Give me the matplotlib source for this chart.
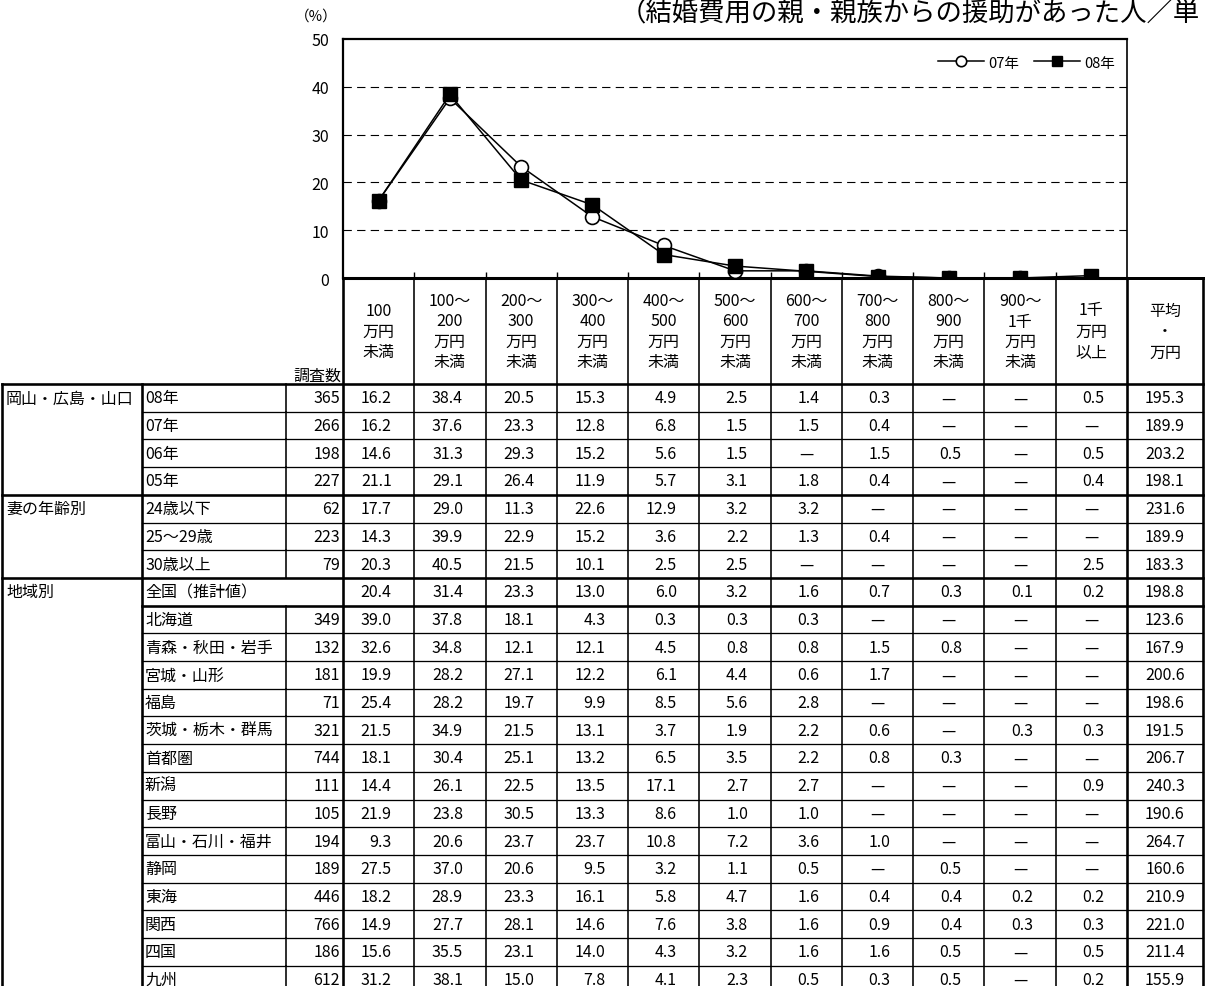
import matplotlib
matplotlib.use("Agg")
import matplotlib.pyplot as plt
import numpy as np

plt.rcParams["font.family"] = ["Noto Sans CJK JP", "DejaVu Sans"]
plt.rcParams["lines.scale_dashes"] = False

W, H = 1205, 987  # output size in px (dpi 100)

TITLE = "（結婚費用の親・親族からの援助があった人／単"
UNIT = "（%）"
SERIES = ["07年", "08年"]

BIN_HEADS = ["100\n万円\n未満", "100～\n200\n万円\n未満", "200～\n300\n万円\n未満",
             "300～\n400\n万円\n未満", "400～\n500\n万円\n未満", "500～\n600\n万円\n未満",
             "600～\n700\n万円\n未満", "700～\n800\n万円\n未満", "800～\n900\n万円\n未満",
             "900～\n1千\n万円\n未満", "1千\n万円\n以上"]
AVG_HEAD = "平均\n・\n万円"
N_HEAD = "調査数"

GROUPS = ["岡山・広島・山口", "妻の年齢別", "地域別"]
GROUP_SIZES = [4, 3, 15]

ROW_LABELS = ["08年", "07年", "06年", "05年",
              "24歳以下", "25～29歳", "30歳以上",
              "全国（推計値）", "北海道", "青森・秋田・岩手", "宮城・山形", "福島",
              "茨城・栃木・群馬", "首都圏", "新潟", "長野", "富山・石川・福井", "静岡",
              "東海", "関西", "四国", "九州"]

N_SURVEY = [365, 266, 198, 227, 62, 223, 79, None, 349, 132, 181, 71,
            321, 744, 111, 105, 194, 189, 446, 766, 186, 612]

# None = "—"
SHARES = [
    [16.2, 38.4, 20.5, 15.3, 4.9, 2.5, 1.4, 0.3, None, None, 0.5],
    [16.2, 37.6, 23.3, 12.8, 6.8, 1.5, 1.5, 0.4, None, None, None],
    [14.6, 31.3, 29.3, 15.2, 5.6, 1.5, None, 1.5, 0.5, None, 0.5],
    [21.1, 29.1, 26.4, 11.9, 5.7, 3.1, 1.8, 0.4, None, None, 0.4],
    [17.7, 29.0, 11.3, 22.6, 12.9, 3.2, 3.2, None, None, None, None],
    [14.3, 39.9, 22.9, 15.2, 3.6, 2.2, 1.3, 0.4, None, None, None],
    [20.3, 40.5, 21.5, 10.1, 2.5, 2.5, None, None, None, None, 2.5],
    [20.4, 31.4, 23.3, 13.0, 6.0, 3.2, 1.6, 0.7, 0.3, 0.1, 0.2],
    [39.0, 37.8, 18.1, 4.3, 0.3, 0.3, 0.3, None, None, None, None],
    [32.6, 34.8, 12.1, 12.1, 4.5, 0.8, 0.8, 1.5, 0.8, None, None],
    [19.9, 28.2, 27.1, 12.2, 6.1, 4.4, 0.6, 1.7, None, None, None],
    [25.4, 28.2, 19.7, 9.9, 8.5, 5.6, 2.8, None, None, None, None],
    [21.5, 34.9, 21.5, 13.1, 3.7, 1.9, 2.2, 0.6, None, 0.3, 0.3],
    [18.1, 30.4, 25.1, 13.2, 6.5, 3.5, 2.2, 0.8, 0.3, None, None],
    [14.4, 26.1, 22.5, 13.5, 17.1, 2.7, 2.7, None, None, None, 0.9],
    [21.9, 23.8, 30.5, 13.3, 8.6, 1.0, 1.0, None, None, None, None],
    [9.3, 20.6, 23.7, 23.7, 10.8, 7.2, 3.6, 1.0, None, None, None],
    [27.5, 37.0, 20.6, 9.5, 3.2, 1.1, 0.5, None, 0.5, None, None],
    [18.2, 28.9, 23.3, 16.1, 5.8, 4.7, 1.6, 0.4, 0.4, 0.2, 0.2],
    [14.9, 27.7, 28.1, 14.6, 7.6, 3.8, 1.6, 0.9, 0.4, 0.3, 0.3],
    [15.6, 35.5, 23.1, 14.0, 4.3, 3.2, 1.6, 1.6, 0.5, None, 0.5],
    [31.2, 38.1, 15.0, 7.8, 4.1, 2.3, 0.5, 0.3, 0.5, None, 0.2],
]

AVERAGE = [195.3, 189.9, 203.2, 198.1, 231.6, 189.9, 183.3, 198.8, 123.6, 167.9,
           200.6, 198.6, 191.5, 206.7, 240.3, 190.6, 264.7, 160.6, 210.9, 221.0,
           211.4, 155.9]

# layout in pixels
X_CAT, X_SUB, X_N, X_DATA, X_AVG, X_END = 2, 142, 286, 343, 1127, 1203
Y_TOP, Y_ZERO, Y_HEAD, ROW_H = 40, 279, 385, 27.7
COL_W = (X_AVG - X_DATA) / len(BIN_HEADS)
FS = 11.5
PX = 0.72  # px -> pt


def val(v):
    return 0.0 if v is None else v


fig = plt.figure(figsize=(W / 100, H / 100), dpi=100)

# table / free-text layer in pixel coordinates
tb = fig.add_axes([0, 0, 1, 1])
tb.set_xlim(0, W)
tb.set_ylim(H, 0)
tb.axis("off")

# chart
ax = fig.add_axes([X_DATA / W, 1 - Y_ZERO / H, (X_AVG - X_DATA) / W, (Y_ZERO - Y_TOP) / H])
ax.set_zorder(2)
x = np.arange(len(BIN_HEADS)) + 0.5
s07 = [val(v) for v in SHARES[ROW_LABELS.index("07年")]]
s08 = [val(v) for v in SHARES[ROW_LABELS.index("08年")]]
ax.plot(x, s07, "-o", color="black", lw=1.1, ms=10, mfc="white", mec="black", mew=1.2,
        label=SERIES[0], zorder=3)
ax.plot(x, s08, "-s", color="black", lw=1.1, ms=9.5, mfc="black", mec="black",
        label=SERIES[1], zorder=4)
ax.set_xlim(0, len(BIN_HEADS))
ax.set_ylim(0, 50)
ax.set_yticks(np.arange(0, 51, 10))
ax.set_xticks(np.arange(1, len(BIN_HEADS)))
ax.set_xticklabels([])
ax.tick_params(axis="x", direction="in", length=4.5, width=1)
ax.tick_params(axis="y", length=0, pad=10, labelsize=FS)
for y in range(10, 50, 10):
    ax.axhline(y, color="black", lw=0.8, dashes=(6, 3.8), zorder=1)
ax.spines["left"].set_linewidth(1.6)
ax.spines["top"].set_linewidth(1.6)
ax.spines["right"].set_linewidth(1.2)
ax.spines["bottom"].set_linewidth(2.2)
ax.legend(loc="upper right", bbox_to_anchor=(0.992, 0.955), ncol=2, frameon=False,
          fontsize=10.5, handlelength=3.2, handletextpad=0.25, columnspacing=1.0,
          markerscale=0.75, borderaxespad=0)

fig.text(620 / W, 1 - 14 / H, TITLE, fontsize=19, ha="left", va="center")
tb.text(316, 17, UNIT, fontsize=10.5, ha="center", va="center")

# ---- table lines
n_rows = len(ROW_LABELS)
y_bottom = Y_HEAD + n_rows * ROW_H
thin, mid, thick = 1.3 * PX, 1.6 * PX, 2.6 * PX

tb.plot([X_DATA, X_END], [Y_ZERO, Y_ZERO], color="black", lw=3 * PX)
for k in range(1, len(BIN_HEADS)):
    xx = X_DATA + k * COL_W
    tb.plot([xx, xx], [Y_ZERO, y_bottom], color="black", lw=mid)
for xx in (X_DATA, X_AVG, X_END):
    tb.plot([xx, xx], [Y_ZERO, y_bottom], color="black", lw=thick)
for xx in (X_CAT, X_SUB):
    tb.plot([xx, xx], [Y_HEAD, y_bottom], color="black", lw=thick)

zen = ROW_LABELS.index("全国（推計値）")
group_starts = np.cumsum([0] + GROUP_SIZES[:-1])
for i in range(n_rows):
    top = Y_HEAD + i * ROW_H
    if i != zen:
        tb.plot([X_N, X_N], [top, top + ROW_H], color="black", lw=mid)
    if i in group_starts:
        tb.plot([X_CAT, X_END], [top, top], color="black", lw=thick)
    elif i == zen + 1:
        tb.plot([X_SUB, X_END], [top, top], color="black", lw=thick)
    else:
        tb.plot([X_SUB, X_END], [top, top], color="black", lw=thin)

# ---- header texts
for k, head in enumerate(BIN_HEADS + [AVG_HEAD]):
    cx = X_DATA + (k + 0.5) * COL_W if k < len(BIN_HEADS) else (X_AVG + X_END) / 2
    lines = head.split("\n")
    step = 20 if len(lines) == 4 else 21
    y0 = 332 - step * (len(lines) - 1) / 2
    for j, ln in enumerate(lines):
        tb.text(cx, y0 + j * step, ln, fontsize=FS, ha="center", va="center")
tb.text(X_DATA - 2, 376, N_HEAD, fontsize=FS, ha="right", va="center")

# ---- body texts
for g, (name, start) in enumerate(zip(GROUPS, group_starts)):
    tb.text(X_CAT + 4, Y_HEAD + start * ROW_H + ROW_H / 2, name, fontsize=FS,
            ha="left", va="center")
for i, lbl in enumerate(ROW_LABELS):
    cy = Y_HEAD + i * ROW_H + ROW_H / 2
    tb.text(X_SUB + 3, cy, lbl, fontsize=FS, ha="left", va="center")
    if N_SURVEY[i] is not None:
        tb.text(X_DATA - 3, cy, f"{N_SURVEY[i]}", fontsize=FS, ha="right", va="center")
    for k, v in enumerate(SHARES[i]):
        cx = X_DATA + (k + 0.5) * COL_W
        if v is None:
            tb.text(cx, cy, "—", fontsize=FS, ha="center", va="center")
        else:
            tb.text(cx + 13, cy, f"{v:.1f}", fontsize=FS, ha="right", va="center")
    tb.text((X_AVG + X_END) / 2, cy, f"{AVERAGE[i]:.1f}", fontsize=FS,
            ha="center", va="center")

fig.savefig("out.png", dpi=100)
